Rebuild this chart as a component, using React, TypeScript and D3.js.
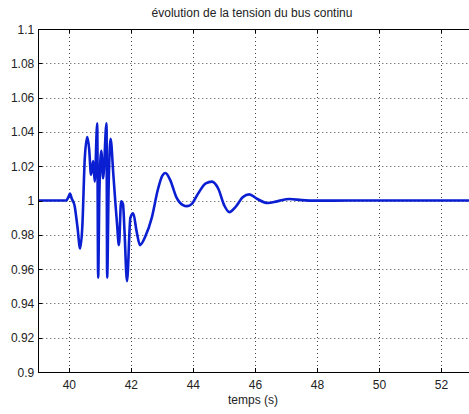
import { useEffect, useRef } from "react"
import * as d3 from "d3"

// DC bus voltage (p.u.) vs time (s)
const times = [
  39.0, 39.9, 39.97, 40.02, 40.08, 40.17, 40.26, 40.35, 40.42, 40.5, 40.58, 40.64, 40.7, 40.77, 40.82,
  40.9, 40.93, 40.97, 41.03, 41.09, 41.2, 41.22, 41.27, 41.33, 41.42, 41.49, 41.54, 41.6, 41.67, 41.73,
  41.78, 41.86, 41.97, 42.06, 42.17, 42.28, 42.45, 42.66, 42.85, 43.0, 43.1, 43.25, 43.45, 43.65, 43.8,
  43.95, 44.15, 44.4, 44.6, 44.8, 45.0, 45.16, 45.35, 45.6, 45.8, 46.05, 46.4, 46.7, 47.1, 47.5, 48.0,
  49.0, 50.0, 51.0, 52.0, 53.0,
]
const voltage = [
  1.0, 1.0, 1.002, 1.004, 1.001, 0.997, 0.985, 0.972, 0.985, 1.025, 1.037, 1.03, 1.015, 1.023, 1.011,
  1.045, 0.955, 1.005, 1.029, 1.013, 1.045, 0.955, 1.01, 1.036, 1.015, 0.9976, 0.986, 0.974, 0.9995, 0.998,
  0.982, 0.953, 0.99, 0.9925, 0.982, 0.974, 0.979, 0.99, 1.006, 1.0145, 1.016, 1.012, 1.002, 0.9975, 0.9967,
  0.998, 1.004, 1.01, 1.011, 1.007, 0.997, 0.9932, 0.996, 1.002, 1.0036, 1.001, 0.9985, 0.9995, 1.0009, 1.0002, 0.9999,
  1.0, 1.0, 1.0, 1.0, 1.0,
]
const xTicks = [40, 42, 44, 46, 48, 50, 52]
const yTicks = [0.9, 0.92, 0.94, 0.96, 0.98, 1, 1.02, 1.04, 1.06, 1.08, 1.1]

const title = "évolution de la tension du bus continu"
const xLabel = "temps (s)"

export default function App() {
  const svgRef = useRef<SVGSVGElement>(null)

  useEffect(() => {
    if (!svgRef.current) return
    d3.select(svgRef.current).selectAll("*").remove()

    const width = 469
    const height = 414
    const margin = { top: 29, right: -3.5, bottom: 42, left: 38.3 }
    const font = "Liberation Sans, Arial, sans-serif"

    const svg = d3.select(svgRef.current).attr("width", width).attr("height", height)
    svg.append("rect").attr("width", width).attr("height", height).attr("fill", "#fff")

    const x = d3.scaleLinear().domain([39, 53]).range([margin.left, width - margin.right])
    const y = d3.scaleLinear().domain([0.9, 1.1]).range([height - margin.bottom, margin.top])
    const x0 = x.range()[0], x1 = x.range()[1]
    const y0 = y.range()[0], y1 = y.range()[1]

    // dotted grid
    const grid = svg.append("g").attr("stroke", "#444").attr("stroke-width", 1).attr("stroke-dasharray", "1,3")
    grid.selectAll(".gx").data(xTicks).enter().append("line")
      .attr("x1", (d) => Math.round(x(d)) + 0.5).attr("x2", (d) => Math.round(x(d)) + 0.5)
      .attr("y1", y1).attr("y2", y0)
    grid.selectAll(".gy").data(yTicks.slice(1, -1)).enter().append("line")
      .attr("x1", x0).attr("x2", x1)
      .attr("y1", (d) => Math.round(y(d)) + 0.5).attr("y2", (d) => Math.round(y(d)) + 0.5)

    // data line
    const data = times.map((t, i) => ({ t, v: voltage[i] }))
    const line = d3.line<{ t: number; v: number }>()
      .x((d) => x(d.t))
      .y((d) => y(d.v))
      .curve(d3.curveMonotoneX)
    svg.append("path").datum(data)
      .attr("fill", "none")
      .attr("stroke", "#0a1ed2")
      .attr("stroke-width", 2.6)
      .attr("stroke-linejoin", "round")
      .attr("d", line)

    // box + inward ticks
    const axes = svg.append("g").attr("stroke", "#000").attr("stroke-width", 1)
    axes.append("rect")
      .attr("x", Math.round(x0) + 0.5).attr("y", Math.round(y1) + 0.5)
      .attr("width", x1 - x0).attr("height", y0 - y1)
      .attr("fill", "none")
    axes.selectAll(".tb").data(xTicks).enter().append("line")
      .attr("x1", (d) => Math.round(x(d)) + 0.5).attr("x2", (d) => Math.round(x(d)) + 0.5)
      .attr("y1", y0).attr("y2", y0 - 4)
    axes.selectAll(".tt").data(xTicks).enter().append("line")
      .attr("x1", (d) => Math.round(x(d)) + 0.5).attr("x2", (d) => Math.round(x(d)) + 0.5)
      .attr("y1", y1).attr("y2", y1 + 4)
    axes.selectAll(".tl").data(yTicks).enter().append("line")
      .attr("x1", x0).attr("x2", x0 + 4)
      .attr("y1", (d) => Math.round(y(d)) + 0.5).attr("y2", (d) => Math.round(y(d)) + 0.5)

    // tick labels
    svg.selectAll(".xl").data(xTicks).enter().append("text")
      .attr("x", (d) => x(d)).attr("y", y0 + 17)
      .attr("text-anchor", "middle")
      .attr("font-family", font).attr("font-size", 12).attr("fill", "#222")
      .text((d) => String(d))
    svg.selectAll(".yl").data(yTicks).enter().append("text")
      .attr("x", x0 - 4).attr("y", (d) => y(d) + 4.5)
      .attr("text-anchor", "end")
      .attr("font-family", font).attr("font-size", 12).attr("fill", "#222")
      .text((d) => String(d))

    // title and axis label
    svg.append("text")
      .attr("x", 252).attr("y", 17)
      .attr("text-anchor", "middle")
      .attr("font-family", font).attr("font-size", 12).attr("fill", "#222")
      .text(title)
    svg.append("text")
      .attr("x", 253).attr("y", 404)
      .attr("text-anchor", "middle")
      .attr("font-family", font).attr("font-size", 12).attr("fill", "#222")
      .text(xLabel)
  }, [])

  return (
    <div style={{ position: "absolute", left: 0, top: 0 }}>
      <svg ref={svgRef} style={{ display: "block" }} />
    </div>
  )
}
